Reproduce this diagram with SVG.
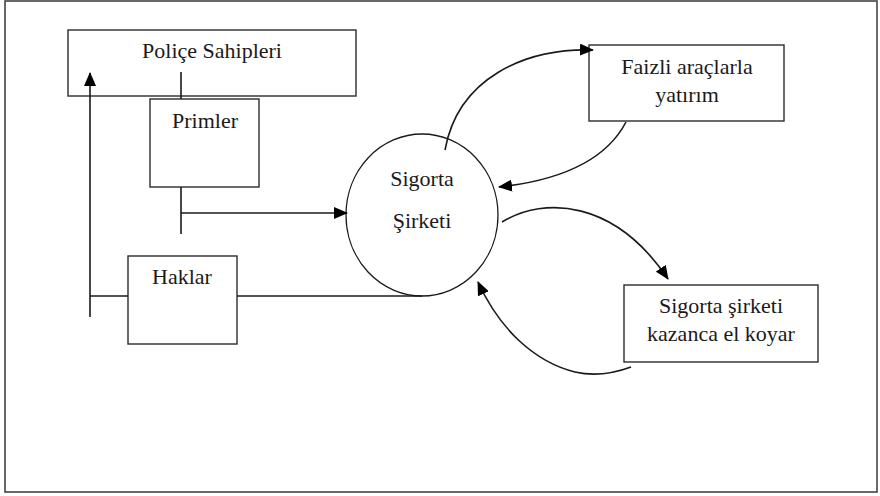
<svg xmlns="http://www.w3.org/2000/svg" width="880" height="496" viewBox="0 0 880 496">
<style>
.box{fill:#fff;stroke:#2b2b2b;stroke-width:1.4}
.ln{fill:none;stroke:#1a1a1a;stroke-width:1.6}
.t{font-family:"Liberation Serif","Times New Roman",serif;font-size:22px;fill:#1a1a1a;text-anchor:middle}
</style>
<defs>
<marker id="ah" markerUnits="userSpaceOnUse" markerWidth="14" markerHeight="12" viewBox="0 0 14 12" refX="13" refY="6" orient="auto">
<path d="M0,0 L14,6 L0,12 Z" fill="#000"/>
</marker>
</defs>
<rect x="5" y="1" width="872" height="491" fill="#fff" stroke="#444" stroke-width="1.6"/>
<g id="police">
<rect class="box" x="68" y="30" width="288" height="66"/>
<text class="t" x="212" y="58">Poliçe Sahipleri</text>
</g>
<g id="primler">
<rect class="box" x="150" y="99" width="109" height="88"/>
<text class="t" x="205" y="128">Primler</text>
</g>
<g id="haklar">
<rect class="box" x="128" y="256" width="109" height="88"/>
<text class="t" x="182" y="284">Haklar</text>
</g>
<g id="sigorta">
<ellipse cx="422" cy="215" rx="76" ry="81" fill="#fff" stroke="#1a1a1a" stroke-width="1.3"/>
<text class="t" x="422" y="186">Sigorta</text>
<text class="t" x="422" y="228">Şirketi</text>
</g>
<g id="faizli">
<rect class="box" x="589" y="45" width="195" height="76"/>
<text class="t" x="687" y="74">Faizli araçlarla</text>
<text class="t" x="687" y="102">yatırım</text>
</g>
<g id="kazanc">
<rect class="box" x="624" y="285" width="194" height="77"/>
<text class="t" x="721" y="313">Sigorta şirketi</text>
<text class="t" x="721" y="341">kazanca el koyar</text>
</g>
<g id="connectors">
<path class="ln" d="M181,72 V99"/>
<path class="ln" d="M181,187 V234"/>
<path class="ln" d="M181,213 H347" marker-end="url(#ah)"/>
<path class="ln" d="M90,317 V73" marker-end="url(#ah)"/>
<path class="ln" d="M90,296 H128"/>
<path class="ln" d="M237,296 H422"/>
<path class="ln" d="M445,150 C458,78 525,48 593,50" marker-end="url(#ah)"/>
<path class="ln" d="M626,122 C602,168 545,182 499,187" marker-end="url(#ah)"/>
<path class="ln" d="M502,222 C545,196 615,200 668,279" marker-end="url(#ah)"/>
<path class="ln" d="M631,367 C612,374 592,376 575,372 C535,362 500,330 478,282" marker-end="url(#ah)"/>
</g>
</svg>
